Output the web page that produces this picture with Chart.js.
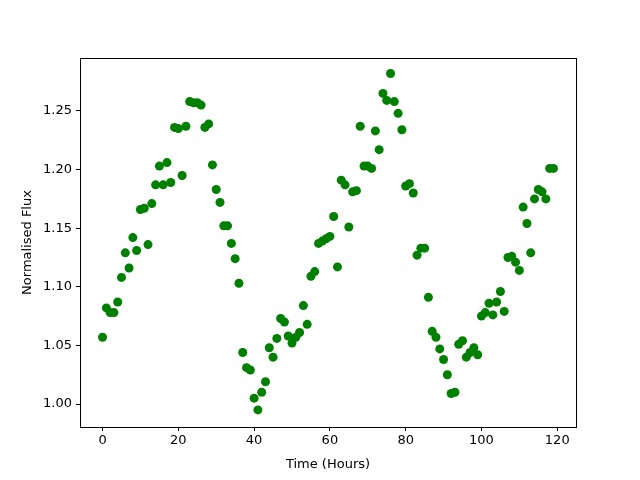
<!DOCTYPE html>
<html>
<head>
<meta charset="utf-8">
<script src="https://cdn.jsdelivr.net/npm/chart.js@4/dist/chart.umd.min.js"></script>
<style>
  html, body { margin: 0; padding: 0; background: #fff; }
</style>
</head>
<body>
<canvas id="chart" width="640" height="480"></canvas>
<script>
const hours = [];
for (let h = 0; h < 120; h++) hours.push(h);

const flux = [
    1.057, 1.082, 1.078, 1.078, 1.087, 1.108, 1.129, 1.116, 1.142, 1.131,
    1.166, 1.167, 1.136, 1.171, 1.187, 1.203, 1.187, 1.206, 1.189, 1.236,
    1.235, 1.195, 1.237, 1.258, 1.257, 1.257, 1.255, 1.236, 1.239, 1.204,
    1.183, 1.172, 1.152, 1.152, 1.137, 1.124, 1.103, 1.044, 1.031, 1.029,
    1.005, 0.995, 1.010, 1.019, 1.048, 1.040, 1.056, 1.073, 1.070, 1.058,
    1.052, 1.057, 1.061, 1.084, 1.068, 1.109, 1.113, 1.137, 1.139, 1.141,
    1.143, 1.160, 1.117, 1.191, 1.187, 1.151, 1.181, 1.182, 1.237, 1.203,
    1.203, 1.201, 1.233, 1.217, 1.265, 1.259, 1.282, 1.258, 1.248, 1.234,
    1.186, 1.188, 1.180, 1.127, 1.133, 1.133, 1.091, 1.062, 1.057, 1.047,
    1.038, 1.025, 1.009, 1.010, 1.051, 1.054, 1.040, 1.044, 1.048, 1.042,
    1.075, 1.078, 1.086, 1.076, 1.087, 1.096, 1.079, 1.125, 1.126, 1.121,
    1.114, 1.168, 1.154, 1.129, 1.175, 1.183, 1.181, 1.175, 1.201, 1.201
];

const xTicks = [0, 20, 40, 60, 80, 100, 120];
const yTicks = [1.00, 1.05, 1.10, 1.15, 1.20, 1.25];

// box around the plot area, like matplotlib spines
const frame = {
    id: 'frame',
    afterDraw(chart) {
        const a = chart.chartArea;
        const c = chart.ctx;
        c.save();
        c.strokeStyle = '#000';
        c.lineWidth = 1;
        c.strokeRect(Math.round(a.left) + 0.5, Math.round(a.top) + 0.5,
            Math.round(a.right - a.left), Math.round(a.bottom - a.top));
        c.restore();
    }
};

Chart.defaults.font.family = 'DejaVu Sans';
Chart.defaults.font.size = 13;
Chart.defaults.color = '#000';

const ctx = document.getElementById('chart').getContext('2d');
const chart = new Chart(ctx, {
    type: 'scatter',
    data: {
        datasets: [{
            data: hours.map((h, i) => ({ x: h, y: flux[i] })),
            backgroundColor: '#008000',
            borderColor: '#008000',
            pointRadius: 4.5,
            pointHoverRadius: 4.5,
            borderWidth: 0
        }]
    },
    options: {
        responsive: false,
        animation: false,
        layout: { padding: { left: 20, top: 58, right: 64, bottom: 8 } },
        plugins: {
            legend: { display: false },
            tooltip: { enabled: false }
        },
        scales: {
            x: {
                type: 'linear',
                min: -5.95,
                max: 124.95,
                afterFit: (s) => { s.height = 45; },
                afterBuildTicks: (s) => { s.ticks = xTicks.map(v => ({ value: v })); },
                ticks: { padding: 2, color: '#000', callback: (v) => String(v) },
                grid: { drawOnChartArea: false, drawTicks: true, tickLength: 4, color: '#000' },
                border: { display: true, color: '#000' },
                title: { display: true, text: 'Time (Hours)', color: '#000', padding: { top: 2, bottom: 0 } }
            },
            y: {
                type: 'linear',
                min: 0.9804,
                max: 1.2952,
                afterFit: (s) => { s.width = 60; },
                afterBuildTicks: (s) => { s.ticks = yTicks.map(v => ({ value: v })); },
                ticks: { padding: 4, color: '#000', callback: (v) => v.toFixed(2) },
                grid: { drawOnChartArea: false, drawTicks: true, tickLength: 4, color: '#000' },
                border: { display: true, color: '#000' },
                title: { display: true, text: 'Normalised Flux', color: '#000', padding: { top: 0, bottom: 4 } }
            }
        }
    },
    plugins: [frame]
});
</script>
</body>
</html>
